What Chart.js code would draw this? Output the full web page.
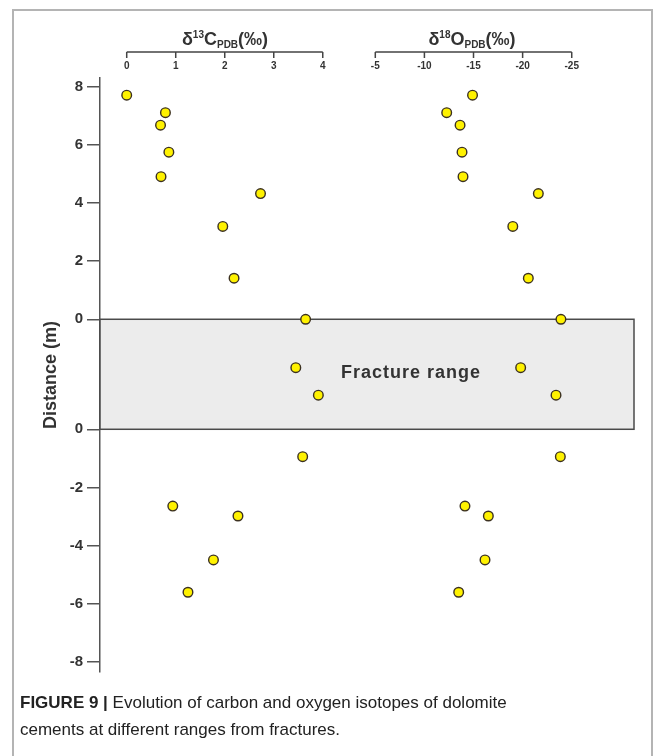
<!DOCTYPE html>
<html>
<head>
<meta charset="utf-8">
<script src="https://cdn.jsdelivr.net/npm/chart.js@4.4.0/dist/chart.umd.min.js"></script>
<style>
  body { margin: 0; background: #fff; font-family: "Liberation Sans", Arial, sans-serif; }
  #frame { position: absolute; left: 12px; top: 9px; width: 637px; height: 760px; border: 2px solid #b4b4b4; border-bottom: none; }
  #wrap { position: absolute; left: 0; top: 0; width: 663px; height: 690px; }
  .axtitle { position: absolute; top: 30px; transform: translateX(-50%); font-weight: bold; font-size: 18px; line-height: 18px; color: #333; white-space: nowrap; }
  .axtitle sup, .axtitle sub { font-size: 10px; vertical-align: baseline; position: relative; }
  .axtitle sup { top: -7px; }
  .axtitle sub { top: 3px; }
  #caption { position: absolute; left: 20px; top: 689px; font-size: 17px; line-height: 27px; color: #222; }
</style>
</head>
<body>
<div id="frame"></div>
<div id="wrap"><canvas id="isoChart" width="663" height="690"></canvas></div>
<div class="axtitle" style="left:225px">δ<sup>13</sup>C<sub>PDB</sub>(‰)</div>
<div class="axtitle" style="left:472px">δ<sup>18</sup>O<sub>PDB</sub>(‰)</div>
<div id="caption"><b>FIGURE 9 |</b> Evolution of carbon and oxygen isotopes of dolomite<br>cements at different ranges from fractures.</div>
<script>
// height of the "Fracture range" band, in axis units (m)
const BAND = 3.78;

// samples above the fracture range (distance in m)
const distAbove = [7.7, 7.1, 6.67, 5.74, 4.9, 4.32, 3.19, 1.41, 0];
const c13Above = [0.0, 0.79, 0.69, 0.86, 0.70, 2.73, 1.96, 2.19, 3.65];
const o18Above = [-14.9, -12.27, -13.63, -13.83, -13.93, -21.6, -19.0, -20.58, -23.9];

// samples inside the fracture range (position as fraction of band, from top)
const fracPos = [0.44, 0.69];
const c13Frac = [3.45, 3.91];
const o18Frac = [-19.8, -23.4];

// samples below the fracture range
const distBelow = [-0.94, -2.64, -2.98, -4.49, -5.6];
const c13Below = [3.59, 0.94, 2.27, 1.77, 1.25];
const o18Below = [-23.84, -14.13, -16.51, -16.17, -13.49];

const cTicks = [0, 1, 2, 3, 4];
const oTicks = [-5, -10, -15, -20, -25];
const distTicks = [8, 6, 4, 2, 0, 0, -2, -4, -6, -8]; // first five above band, rest below

// map to continuous axis position
const posAbove = distAbove.map((d) => d + BAND);
const posFrac = fracPos.map((f) => BAND * (1 - f));
const posBelow = distBelow;
const yPos = [...posAbove, ...posFrac, ...posBelow];
const tickPos = distTicks.map((d, i) => (i < 5 ? d + BAND : d));

const cVals = [...c13Above, ...c13Frac, ...c13Below];
const oVals = [...o18Above, ...o18Frac, ...o18Below];

function drawTopAxis(ctx, scale, ticks) {
    const yLine = 52;
    const x0 = scale.getPixelForValue(ticks[0]);
    const x1 = scale.getPixelForValue(ticks[ticks.length - 1]);
    ctx.strokeStyle = "#444";
    ctx.lineWidth = 1.5;
    ctx.beginPath();
    ctx.moveTo(x0, yLine);
    ctx.lineTo(x1, yLine);
    ticks.forEach((t) => {
        const x = scale.getPixelForValue(t);
        ctx.moveTo(x, yLine);
        ctx.lineTo(x, yLine + 6);
    });
    ctx.stroke();
    ctx.fillStyle = "#333";
    ctx.font = 'bold 10px "Liberation Sans", Arial, sans-serif';
    ctx.textAlign = "center";
    ctx.textBaseline = "middle";
    ticks.forEach((t) => ctx.fillText(String(t), scale.getPixelForValue(t), 66));
}

const overlay = {
    id: "overlay",
    beforeDatasetsDraw(chart) {
        const { ctx, chartArea, scales } = chart;
        const yTop = scales.y.getPixelForValue(BAND);
        const yBot = scales.y.getPixelForValue(0);
        ctx.save();
        ctx.fillStyle = "#ececec";
        ctx.fillRect(chartArea.left, yTop, chartArea.right - chartArea.left, yBot - yTop);
        ctx.strokeStyle = "#4a4a4a";
        ctx.lineWidth = 1.5;
        ctx.strokeRect(chartArea.left, yTop, chartArea.right - chartArea.left, yBot - yTop);
        ctx.fillStyle = "#333";
        ctx.font = 'bold 18px "Liberation Sans", Arial, sans-serif';
        ctx.letterSpacing = "1px";
        ctx.textAlign = "center";
        ctx.textBaseline = "middle";
        ctx.fillText("Fracture range", chartArea.left + 311, (yTop + yBot) / 2 - 1);
        ctx.letterSpacing = "0px";
        drawTopAxis(ctx, scales.xC, cTicks);
        drawTopAxis(ctx, scales.xO, oTicks);
        ctx.restore();
    },
};

const pointStyle = {
    showLine: false,
    pointRadius: 4.8,
    pointBorderWidth: 1.4,
    pointBackgroundColor: "#fff200",
    pointBorderColor: "#3b3020",
};

new Chart(document.getElementById("isoChart"), {
    type: "scatter",
    data: {
        datasets: [
            {
                label: "d13C",
                xAxisID: "xC",
                data: cVals.map((v, i) => ({ x: v, y: yPos[i] })),
                ...pointStyle,
            },
            {
                label: "d18O",
                xAxisID: "xO",
                data: oVals.map((v, i) => ({ x: v, y: yPos[i] })),
                ...pointStyle,
            },
        ],
    },
    options: {
        responsive: false,
        animation: false,
        events: [],
        layout: {
            padding: { left: 0, right: 29, top: 78, bottom: 18 },
        },
        plugins: {
            legend: { display: false },
            tooltip: { enabled: false },
        },
        scales: {
            xC: { type: "linear", axis: "x", display: false, min: -0.545, max: 10.35 },
            xO: { type: "linear", axis: "x", display: false, reverse: true, min: -31.34, max: 23.03 },
            y: {
                type: "linear",
                min: -8.34,
                max: 12.07,
                afterFit: (scale) => {
                    scale.width = 100;
                },
                afterBuildTicks: (scale) => {
                    scale.ticks = tickPos.map((v) => ({ value: v }));
                },
                ticks: {
                    autoSkip: false,
                    padding: 4,
                    color: "#333",
                    font: { family: '"Liberation Sans", Arial, sans-serif', size: 15, weight: "bold" },
                    callback: (v) => {
                        const d = v >= BAND - 1e-6 ? v - BAND : v;
                        return String(Math.round(d));
                    },
                },
                grid: {
                    drawOnChartArea: false,
                    drawTicks: true,
                    tickLength: 13,
                    color: "#555",
                    lineWidth: 1.5,
                },
                border: { display: true, color: "#555", width: 1.5 },
                title: {
                    display: true,
                    text: "Distance (m)",
                    color: "#333",
                    font: { family: '"Liberation Sans", Arial, sans-serif', size: 18, weight: "bold" },
                    padding: { top: 40, bottom: 0 },
                },
            },
        },
    },
    plugins: [overlay],
});
</script>
</body>
</html>
